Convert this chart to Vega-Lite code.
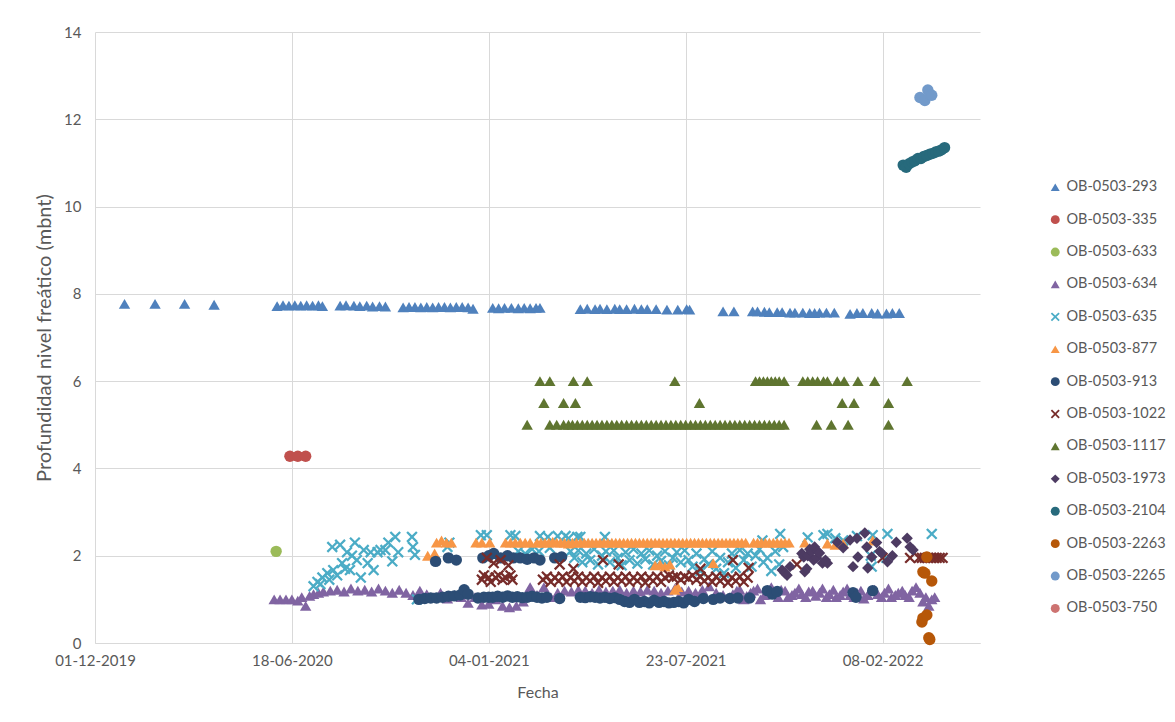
{
"$schema":"https://vega.github.io/schema/vega-lite/v6.json",
"width":885,"height":611,"autosize":"none",
"padding":{"left":95,"top":32,"right":195,"bottom":79},
"background":"white",
"config":{"view":{"stroke":null},"font":"Lato"},
"data":{"values":[
{"fecha":"2019-12-31","nivel":7.77,"pozo":"OB-0503-293"},
{"fecha":"2020-01-31","nivel":7.77,"pozo":"OB-0503-293"},
{"fecha":"2020-03-01","nivel":7.77,"pozo":"OB-0503-293"},
{"fecha":"2020-03-31","nivel":7.75,"pozo":"OB-0503-293"},
{"fecha":"2020-06-03","nivel":7.72,"pozo":"OB-0503-293"},
{"fecha":"2020-06-09","nivel":7.74,"pozo":"OB-0503-293"},
{"fecha":"2020-06-15","nivel":7.73,"pozo":"OB-0503-293"},
{"fecha":"2020-06-21","nivel":7.74,"pozo":"OB-0503-293"},
{"fecha":"2020-06-27","nivel":7.73,"pozo":"OB-0503-293"},
{"fecha":"2020-07-03","nivel":7.74,"pozo":"OB-0503-293"},
{"fecha":"2020-07-09","nivel":7.73,"pozo":"OB-0503-293"},
{"fecha":"2020-07-15","nivel":7.74,"pozo":"OB-0503-293"},
{"fecha":"2020-07-19","nivel":7.72,"pozo":"OB-0503-293"},
{"fecha":"2020-08-06","nivel":7.73,"pozo":"OB-0503-293"},
{"fecha":"2020-08-12","nivel":7.74,"pozo":"OB-0503-293"},
{"fecha":"2020-08-20","nivel":7.73,"pozo":"OB-0503-293"},
{"fecha":"2020-08-26","nivel":7.72,"pozo":"OB-0503-293"},
{"fecha":"2020-09-02","nivel":7.73,"pozo":"OB-0503-293"},
{"fecha":"2020-09-08","nivel":7.71,"pozo":"OB-0503-293"},
{"fecha":"2020-09-15","nivel":7.72,"pozo":"OB-0503-293"},
{"fecha":"2020-09-21","nivel":7.71,"pozo":"OB-0503-293"},
{"fecha":"2020-10-09","nivel":7.69,"pozo":"OB-0503-293"},
{"fecha":"2020-10-15","nivel":7.70,"pozo":"OB-0503-293"},
{"fecha":"2020-10-21","nivel":7.70,"pozo":"OB-0503-293"},
{"fecha":"2020-10-27","nivel":7.69,"pozo":"OB-0503-293"},
{"fecha":"2020-11-02","nivel":7.70,"pozo":"OB-0503-293"},
{"fecha":"2020-11-08","nivel":7.69,"pozo":"OB-0503-293"},
{"fecha":"2020-11-14","nivel":7.70,"pozo":"OB-0503-293"},
{"fecha":"2020-11-20","nivel":7.70,"pozo":"OB-0503-293"},
{"fecha":"2020-11-26","nivel":7.69,"pozo":"OB-0503-293"},
{"fecha":"2020-12-02","nivel":7.70,"pozo":"OB-0503-293"},
{"fecha":"2020-12-08","nivel":7.70,"pozo":"OB-0503-293"},
{"fecha":"2020-12-14","nivel":7.69,"pozo":"OB-0503-293"},
{"fecha":"2020-12-19","nivel":7.66,"pozo":"OB-0503-293"},
{"fecha":"2021-01-08","nivel":7.68,"pozo":"OB-0503-293"},
{"fecha":"2021-01-14","nivel":7.67,"pozo":"OB-0503-293"},
{"fecha":"2021-01-20","nivel":7.68,"pozo":"OB-0503-293"},
{"fecha":"2021-01-27","nivel":7.68,"pozo":"OB-0503-293"},
{"fecha":"2021-02-03","nivel":7.67,"pozo":"OB-0503-293"},
{"fecha":"2021-02-09","nivel":7.68,"pozo":"OB-0503-293"},
{"fecha":"2021-02-15","nivel":7.67,"pozo":"OB-0503-293"},
{"fecha":"2021-02-21","nivel":7.68,"pozo":"OB-0503-293"},
{"fecha":"2021-02-25","nivel":7.68,"pozo":"OB-0503-293"},
{"fecha":"2021-04-07","nivel":7.65,"pozo":"OB-0503-293"},
{"fecha":"2021-04-14","nivel":7.66,"pozo":"OB-0503-293"},
{"fecha":"2021-04-22","nivel":7.65,"pozo":"OB-0503-293"},
{"fecha":"2021-04-27","nivel":7.66,"pozo":"OB-0503-293"},
{"fecha":"2021-05-04","nivel":7.65,"pozo":"OB-0503-293"},
{"fecha":"2021-05-12","nivel":7.66,"pozo":"OB-0503-293"},
{"fecha":"2021-05-17","nivel":7.65,"pozo":"OB-0503-293"},
{"fecha":"2021-05-24","nivel":7.65,"pozo":"OB-0503-293"},
{"fecha":"2021-06-01","nivel":7.66,"pozo":"OB-0503-293"},
{"fecha":"2021-06-08","nivel":7.65,"pozo":"OB-0503-293"},
{"fecha":"2021-06-14","nivel":7.65,"pozo":"OB-0503-293"},
{"fecha":"2021-06-23","nivel":7.65,"pozo":"OB-0503-293"},
{"fecha":"2021-07-04","nivel":7.64,"pozo":"OB-0503-293"},
{"fecha":"2021-07-15","nivel":7.64,"pozo":"OB-0503-293"},
{"fecha":"2021-07-24","nivel":7.65,"pozo":"OB-0503-293"},
{"fecha":"2021-07-27","nivel":7.64,"pozo":"OB-0503-293"},
{"fecha":"2021-08-30","nivel":7.60,"pozo":"OB-0503-293"},
{"fecha":"2021-09-10","nivel":7.60,"pozo":"OB-0503-293"},
{"fecha":"2021-09-29","nivel":7.60,"pozo":"OB-0503-293"},
{"fecha":"2021-10-04","nivel":7.60,"pozo":"OB-0503-293"},
{"fecha":"2021-10-11","nivel":7.59,"pozo":"OB-0503-293"},
{"fecha":"2021-10-16","nivel":7.58,"pozo":"OB-0503-293"},
{"fecha":"2021-10-24","nivel":7.58,"pozo":"OB-0503-293"},
{"fecha":"2021-10-29","nivel":7.58,"pozo":"OB-0503-293"},
{"fecha":"2021-11-06","nivel":7.57,"pozo":"OB-0503-293"},
{"fecha":"2021-11-11","nivel":7.57,"pozo":"OB-0503-293"},
{"fecha":"2021-11-19","nivel":7.57,"pozo":"OB-0503-293"},
{"fecha":"2021-11-26","nivel":7.56,"pozo":"OB-0503-293"},
{"fecha":"2021-12-01","nivel":7.56,"pozo":"OB-0503-293"},
{"fecha":"2021-12-06","nivel":7.57,"pozo":"OB-0503-293"},
{"fecha":"2021-12-13","nivel":7.57,"pozo":"OB-0503-293"},
{"fecha":"2021-12-21","nivel":7.57,"pozo":"OB-0503-293"},
{"fecha":"2022-01-06","nivel":7.54,"pozo":"OB-0503-293"},
{"fecha":"2022-01-13","nivel":7.56,"pozo":"OB-0503-293"},
{"fecha":"2022-01-19","nivel":7.56,"pozo":"OB-0503-293"},
{"fecha":"2022-01-28","nivel":7.56,"pozo":"OB-0503-293"},
{"fecha":"2022-02-03","nivel":7.55,"pozo":"OB-0503-293"},
{"fecha":"2022-02-12","nivel":7.55,"pozo":"OB-0503-293"},
{"fecha":"2022-02-18","nivel":7.56,"pozo":"OB-0503-293"},
{"fecha":"2022-02-25","nivel":7.56,"pozo":"OB-0503-293"},
{"fecha":"2020-06-16","nivel":4.28,"pozo":"OB-0503-335"},
{"fecha":"2020-06-24","nivel":4.28,"pozo":"OB-0503-335"},
{"fecha":"2020-07-02","nivel":4.28,"pozo":"OB-0503-335"},
{"fecha":"2020-06-02","nivel":2.1,"pozo":"OB-0503-633"},
{"fecha":"2020-05-31","nivel":1.0,"pozo":"OB-0503-634"},
{"fecha":"2020-06-06","nivel":1.0,"pozo":"OB-0503-634"},
{"fecha":"2020-06-12","nivel":1.0,"pozo":"OB-0503-634"},
{"fecha":"2020-06-18","nivel":1.0,"pozo":"OB-0503-634"},
{"fecha":"2020-06-24","nivel":0.97,"pozo":"OB-0503-634"},
{"fecha":"2020-06-28","nivel":1.05,"pozo":"OB-0503-634"},
{"fecha":"2020-07-02","nivel":0.85,"pozo":"OB-0503-634"},
{"fecha":"2020-07-06","nivel":1.08,"pozo":"OB-0503-634"},
{"fecha":"2020-07-10","nivel":1.12,"pozo":"OB-0503-634"},
{"fecha":"2020-07-15","nivel":1.15,"pozo":"OB-0503-634"},
{"fecha":"2020-07-20","nivel":1.18,"pozo":"OB-0503-634"},
{"fecha":"2020-07-27","nivel":1.2,"pozo":"OB-0503-634"},
{"fecha":"2020-08-03","nivel":1.22,"pozo":"OB-0503-634"},
{"fecha":"2020-08-10","nivel":1.18,"pozo":"OB-0503-634"},
{"fecha":"2020-08-17","nivel":1.25,"pozo":"OB-0503-634"},
{"fecha":"2020-08-24","nivel":1.2,"pozo":"OB-0503-634"},
{"fecha":"2020-08-31","nivel":1.22,"pozo":"OB-0503-634"},
{"fecha":"2020-09-07","nivel":1.18,"pozo":"OB-0503-634"},
{"fecha":"2020-09-14","nivel":1.25,"pozo":"OB-0503-634"},
{"fecha":"2020-09-21","nivel":1.2,"pozo":"OB-0503-634"},
{"fecha":"2020-09-28","nivel":1.15,"pozo":"OB-0503-634"},
{"fecha":"2020-10-05","nivel":1.22,"pozo":"OB-0503-634"},
{"fecha":"2020-10-12","nivel":1.15,"pozo":"OB-0503-634"},
{"fecha":"2020-10-19","nivel":1.1,"pozo":"OB-0503-634"},
{"fecha":"2020-10-26","nivel":1.2,"pozo":"OB-0503-634"},
{"fecha":"2020-11-02","nivel":1.12,"pozo":"OB-0503-634"},
{"fecha":"2020-11-09","nivel":1.05,"pozo":"OB-0503-634"},
{"fecha":"2020-11-16","nivel":1.15,"pozo":"OB-0503-634"},
{"fecha":"2020-11-23","nivel":1.02,"pozo":"OB-0503-634"},
{"fecha":"2020-11-30","nivel":1.1,"pozo":"OB-0503-634"},
{"fecha":"2020-12-07","nivel":1.05,"pozo":"OB-0503-634"},
{"fecha":"2020-12-14","nivel":0.92,"pozo":"OB-0503-634"},
{"fecha":"2020-12-21","nivel":1.05,"pozo":"OB-0503-634"},
{"fecha":"2020-12-28","nivel":0.88,"pozo":"OB-0503-634"},
{"fecha":"2021-01-04","nivel":0.9,"pozo":"OB-0503-634"},
{"fecha":"2021-01-11","nivel":1.0,"pozo":"OB-0503-634"},
{"fecha":"2021-01-18","nivel":0.85,"pozo":"OB-0503-634"},
{"fecha":"2021-01-25","nivel":0.82,"pozo":"OB-0503-634"},
{"fecha":"2021-02-01","nivel":0.85,"pozo":"OB-0503-634"},
{"fecha":"2021-02-08","nivel":0.95,"pozo":"OB-0503-634"},
{"fecha":"2021-02-15","nivel":1.28,"pozo":"OB-0503-634"},
{"fecha":"2021-02-22","nivel":1.1,"pozo":"OB-0503-634"},
{"fecha":"2021-03-01","nivel":1.28,"pozo":"OB-0503-634"},
{"fecha":"2021-03-08","nivel":1.05,"pozo":"OB-0503-634"},
{"fecha":"2021-03-15","nivel":1.15,"pozo":"OB-0503-634"},
{"fecha":"2021-03-22","nivel":1.2,"pozo":"OB-0503-634"},
{"fecha":"2021-03-29","nivel":1.18,"pozo":"OB-0503-634"},
{"fecha":"2021-04-05","nivel":1.22,"pozo":"OB-0503-634"},
{"fecha":"2021-04-12","nivel":1.2,"pozo":"OB-0503-634"},
{"fecha":"2021-04-19","nivel":1.15,"pozo":"OB-0503-634"},
{"fecha":"2021-04-26","nivel":1.22,"pozo":"OB-0503-634"},
{"fecha":"2021-05-03","nivel":1.18,"pozo":"OB-0503-634"},
{"fecha":"2021-05-10","nivel":1.2,"pozo":"OB-0503-634"},
{"fecha":"2021-05-17","nivel":1.22,"pozo":"OB-0503-634"},
{"fecha":"2021-05-24","nivel":1.15,"pozo":"OB-0503-634"},
{"fecha":"2021-05-31","nivel":1.2,"pozo":"OB-0503-634"},
{"fecha":"2021-06-07","nivel":1.18,"pozo":"OB-0503-634"},
{"fecha":"2021-06-14","nivel":1.22,"pozo":"OB-0503-634"},
{"fecha":"2021-06-21","nivel":1.2,"pozo":"OB-0503-634"},
{"fecha":"2021-06-28","nivel":1.15,"pozo":"OB-0503-634"},
{"fecha":"2021-07-05","nivel":1.2,"pozo":"OB-0503-634"},
{"fecha":"2021-07-12","nivel":1.25,"pozo":"OB-0503-634"},
{"fecha":"2021-07-19","nivel":1.18,"pozo":"OB-0503-634"},
{"fecha":"2021-07-26","nivel":1.2,"pozo":"OB-0503-634"},
{"fecha":"2021-08-02","nivel":1.15,"pozo":"OB-0503-634"},
{"fecha":"2021-08-09","nivel":1.22,"pozo":"OB-0503-634"},
{"fecha":"2021-08-16","nivel":1.3,"pozo":"OB-0503-634"},
{"fecha":"2021-08-23","nivel":1.15,"pozo":"OB-0503-634"},
{"fecha":"2021-08-30","nivel":1.1,"pozo":"OB-0503-634"},
{"fecha":"2021-09-06","nivel":1.05,"pozo":"OB-0503-634"},
{"fecha":"2021-09-09","nivel":1.12,"pozo":"OB-0503-634"},
{"fecha":"2021-09-13","nivel":1.2,"pozo":"OB-0503-634"},
{"fecha":"2021-09-16","nivel":1.22,"pozo":"OB-0503-634"},
{"fecha":"2021-09-20","nivel":1.0,"pozo":"OB-0503-634"},
{"fecha":"2021-09-23","nivel":1.08,"pozo":"OB-0503-634"},
{"fecha":"2021-09-27","nivel":1.15,"pozo":"OB-0503-634"},
{"fecha":"2021-09-30","nivel":1.2,"pozo":"OB-0503-634"},
{"fecha":"2021-10-04","nivel":1.25,"pozo":"OB-0503-634"},
{"fecha":"2021-10-07","nivel":1.0,"pozo":"OB-0503-634"},
{"fecha":"2021-10-11","nivel":1.1,"pozo":"OB-0503-634"},
{"fecha":"2021-10-14","nivel":1.18,"pozo":"OB-0503-634"},
{"fecha":"2021-10-18","nivel":1.28,"pozo":"OB-0503-634"},
{"fecha":"2021-10-21","nivel":1.12,"pozo":"OB-0503-634"},
{"fecha":"2021-10-25","nivel":1.05,"pozo":"OB-0503-634"},
{"fecha":"2021-10-28","nivel":1.22,"pozo":"OB-0503-634"},
{"fecha":"2021-11-01","nivel":1.2,"pozo":"OB-0503-634"},
{"fecha":"2021-11-04","nivel":1.05,"pozo":"OB-0503-634"},
{"fecha":"2021-11-08","nivel":1.1,"pozo":"OB-0503-634"},
{"fecha":"2021-11-11","nivel":1.15,"pozo":"OB-0503-634"},
{"fecha":"2021-11-15","nivel":1.25,"pozo":"OB-0503-634"},
{"fecha":"2021-11-18","nivel":1.12,"pozo":"OB-0503-634"},
{"fecha":"2021-11-22","nivel":1.05,"pozo":"OB-0503-634"},
{"fecha":"2021-11-25","nivel":1.18,"pozo":"OB-0503-634"},
{"fecha":"2021-11-29","nivel":1.2,"pozo":"OB-0503-634"},
{"fecha":"2021-12-02","nivel":1.08,"pozo":"OB-0503-634"},
{"fecha":"2021-12-06","nivel":1.15,"pozo":"OB-0503-634"},
{"fecha":"2021-12-09","nivel":1.25,"pozo":"OB-0503-634"},
{"fecha":"2021-12-13","nivel":1.05,"pozo":"OB-0503-634"},
{"fecha":"2021-12-16","nivel":1.12,"pozo":"OB-0503-634"},
{"fecha":"2021-12-20","nivel":1.22,"pozo":"OB-0503-634"},
{"fecha":"2021-12-23","nivel":1.05,"pozo":"OB-0503-634"},
{"fecha":"2021-12-27","nivel":1.1,"pozo":"OB-0503-634"},
{"fecha":"2021-12-30","nivel":1.18,"pozo":"OB-0503-634"},
{"fecha":"2022-01-03","nivel":1.25,"pozo":"OB-0503-634"},
{"fecha":"2022-01-06","nivel":1.1,"pozo":"OB-0503-634"},
{"fecha":"2022-01-10","nivel":1.05,"pozo":"OB-0503-634"},
{"fecha":"2022-01-13","nivel":1.15,"pozo":"OB-0503-634"},
{"fecha":"2022-01-17","nivel":1.2,"pozo":"OB-0503-634"},
{"fecha":"2022-01-20","nivel":1.02,"pozo":"OB-0503-634"},
{"fecha":"2022-01-24","nivel":1.1,"pozo":"OB-0503-634"},
{"fecha":"2022-01-27","nivel":1.2,"pozo":"OB-0503-634"},
{"fecha":"2022-01-31","nivel":1.22,"pozo":"OB-0503-634"},
{"fecha":"2022-02-03","nivel":1.12,"pozo":"OB-0503-634"},
{"fecha":"2022-02-07","nivel":1.05,"pozo":"OB-0503-634"},
{"fecha":"2022-02-10","nivel":1.15,"pozo":"OB-0503-634"},
{"fecha":"2022-02-14","nivel":1.25,"pozo":"OB-0503-634"},
{"fecha":"2022-02-17","nivel":1.05,"pozo":"OB-0503-634"},
{"fecha":"2022-02-21","nivel":1.1,"pozo":"OB-0503-634"},
{"fecha":"2022-02-24","nivel":1.15,"pozo":"OB-0503-634"},
{"fecha":"2022-02-28","nivel":1.2,"pozo":"OB-0503-634"},
{"fecha":"2022-03-03","nivel":1.1,"pozo":"OB-0503-634"},
{"fecha":"2022-03-07","nivel":1.05,"pozo":"OB-0503-634"},
{"fecha":"2022-03-10","nivel":1.2,"pozo":"OB-0503-634"},
{"fecha":"2022-03-14","nivel":1.28,"pozo":"OB-0503-634"},
{"fecha":"2022-03-18","nivel":1.15,"pozo":"OB-0503-634"},
{"fecha":"2022-03-21","nivel":0.95,"pozo":"OB-0503-634"},
{"fecha":"2022-03-24","nivel":1.05,"pozo":"OB-0503-634"},
{"fecha":"2022-03-27","nivel":0.85,"pozo":"OB-0503-634"},
{"fecha":"2022-03-30","nivel":1.0,"pozo":"OB-0503-634"},
{"fecha":"2022-04-02","nivel":1.05,"pozo":"OB-0503-634"},
{"fecha":"2020-07-10","nivel":1.3,"pozo":"OB-0503-635"},
{"fecha":"2020-07-14","nivel":1.4,"pozo":"OB-0503-635"},
{"fecha":"2020-07-17","nivel":1.35,"pozo":"OB-0503-635"},
{"fecha":"2020-07-19","nivel":1.5,"pozo":"OB-0503-635"},
{"fecha":"2020-07-24","nivel":1.6,"pozo":"OB-0503-635"},
{"fecha":"2020-07-26","nivel":1.45,"pozo":"OB-0503-635"},
{"fecha":"2020-07-29","nivel":2.2,"pozo":"OB-0503-635"},
{"fecha":"2020-07-30","nivel":1.67,"pozo":"OB-0503-635"},
{"fecha":"2020-08-03","nivel":1.55,"pozo":"OB-0503-635"},
{"fecha":"2020-08-06","nivel":2.25,"pozo":"OB-0503-635"},
{"fecha":"2020-08-08","nivel":1.83,"pozo":"OB-0503-635"},
{"fecha":"2020-08-11","nivel":1.7,"pozo":"OB-0503-635"},
{"fecha":"2020-08-13","nivel":2.08,"pozo":"OB-0503-635"},
{"fecha":"2020-08-16","nivel":1.67,"pozo":"OB-0503-635"},
{"fecha":"2020-08-18","nivel":2.0,"pozo":"OB-0503-635"},
{"fecha":"2020-08-21","nivel":2.3,"pozo":"OB-0503-635"},
{"fecha":"2020-08-23","nivel":1.9,"pozo":"OB-0503-635"},
{"fecha":"2020-08-27","nivel":1.5,"pozo":"OB-0503-635"},
{"fecha":"2020-08-30","nivel":2.13,"pozo":"OB-0503-635"},
{"fecha":"2020-09-03","nivel":1.83,"pozo":"OB-0503-635"},
{"fecha":"2020-09-06","nivel":2.08,"pozo":"OB-0503-635"},
{"fecha":"2020-09-09","nivel":1.67,"pozo":"OB-0503-635"},
{"fecha":"2020-09-13","nivel":2.08,"pozo":"OB-0503-635"},
{"fecha":"2020-09-16","nivel":2.13,"pozo":"OB-0503-635"},
{"fecha":"2020-09-21","nivel":2.13,"pozo":"OB-0503-635"},
{"fecha":"2020-09-24","nivel":2.3,"pozo":"OB-0503-635"},
{"fecha":"2020-09-28","nivel":1.87,"pozo":"OB-0503-635"},
{"fecha":"2020-10-01","nivel":2.43,"pozo":"OB-0503-635"},
{"fecha":"2020-10-04","nivel":2.08,"pozo":"OB-0503-635"},
{"fecha":"2020-10-18","nivel":2.43,"pozo":"OB-0503-635"},
{"fecha":"2020-10-19","nivel":2.2,"pozo":"OB-0503-635"},
{"fecha":"2020-10-21","nivel":2.02,"pozo":"OB-0503-635"},
{"fecha":"2020-10-23","nivel":1.0,"pozo":"OB-0503-635"},
{"fecha":"2020-11-23","nivel":2.2,"pozo":"OB-0503-635"},
{"fecha":"2020-11-25","nivel":2.3,"pozo":"OB-0503-635"},
{"fecha":"2020-12-27","nivel":2.47,"pozo":"OB-0503-635"},
{"fecha":"2021-01-02","nivel":2.47,"pozo":"OB-0503-635"},
{"fecha":"2021-01-26","nivel":2.47,"pozo":"OB-0503-635"},
{"fecha":"2021-01-31","nivel":2.45,"pozo":"OB-0503-635"},
{"fecha":"2021-02-03","nivel":2.1,"pozo":"OB-0503-635"},
{"fecha":"2021-02-10","nivel":2.05,"pozo":"OB-0503-635"},
{"fecha":"2021-02-17","nivel":2.15,"pozo":"OB-0503-635"},
{"fecha":"2021-02-24","nivel":2.1,"pozo":"OB-0503-635"},
{"fecha":"2021-02-25","nivel":2.45,"pozo":"OB-0503-635"},
{"fecha":"2021-03-05","nivel":2.43,"pozo":"OB-0503-635"},
{"fecha":"2021-03-07","nivel":2.18,"pozo":"OB-0503-635"},
{"fecha":"2021-03-15","nivel":2.45,"pozo":"OB-0503-635"},
{"fecha":"2021-03-23","nivel":2.45,"pozo":"OB-0503-635"},
{"fecha":"2021-03-26","nivel":2.4,"pozo":"OB-0503-635"},
{"fecha":"2021-04-04","nivel":2.43,"pozo":"OB-0503-635"},
{"fecha":"2021-04-07","nivel":2.43,"pozo":"OB-0503-635"},
{"fecha":"2021-05-02","nivel":2.43,"pozo":"OB-0503-635"},
{"fecha":"2021-03-28","nivel":2.1,"pozo":"OB-0503-635"},
{"fecha":"2021-04-01","nivel":1.95,"pozo":"OB-0503-635"},
{"fecha":"2021-04-05","nivel":2.12,"pozo":"OB-0503-635"},
{"fecha":"2021-04-09","nivel":1.85,"pozo":"OB-0503-635"},
{"fecha":"2021-04-13","nivel":2.05,"pozo":"OB-0503-635"},
{"fecha":"2021-04-17","nivel":1.9,"pozo":"OB-0503-635"},
{"fecha":"2021-04-21","nivel":2.15,"pozo":"OB-0503-635"},
{"fecha":"2021-04-25","nivel":1.8,"pozo":"OB-0503-635"},
{"fecha":"2021-04-29","nivel":2.0,"pozo":"OB-0503-635"},
{"fecha":"2021-05-03","nivel":2.1,"pozo":"OB-0503-635"},
{"fecha":"2021-05-07","nivel":1.85,"pozo":"OB-0503-635"},
{"fecha":"2021-05-11","nivel":2.12,"pozo":"OB-0503-635"},
{"fecha":"2021-05-15","nivel":1.95,"pozo":"OB-0503-635"},
{"fecha":"2021-05-19","nivel":1.78,"pozo":"OB-0503-635"},
{"fecha":"2021-05-23","nivel":2.08,"pozo":"OB-0503-635"},
{"fecha":"2021-05-27","nivel":1.9,"pozo":"OB-0503-635"},
{"fecha":"2021-05-31","nivel":2.15,"pozo":"OB-0503-635"},
{"fecha":"2021-06-04","nivel":1.82,"pozo":"OB-0503-635"},
{"fecha":"2021-06-08","nivel":2.05,"pozo":"OB-0503-635"},
{"fecha":"2021-06-12","nivel":1.92,"pozo":"OB-0503-635"},
{"fecha":"2021-06-16","nivel":2.12,"pozo":"OB-0503-635"},
{"fecha":"2021-06-20","nivel":1.8,"pozo":"OB-0503-635"},
{"fecha":"2021-06-24","nivel":2.0,"pozo":"OB-0503-635"},
{"fecha":"2021-06-28","nivel":1.88,"pozo":"OB-0503-635"},
{"fecha":"2021-07-02","nivel":2.1,"pozo":"OB-0503-635"},
{"fecha":"2021-07-06","nivel":1.78,"pozo":"OB-0503-635"},
{"fecha":"2021-07-10","nivel":1.95,"pozo":"OB-0503-635"},
{"fecha":"2021-07-14","nivel":2.08,"pozo":"OB-0503-635"},
{"fecha":"2021-07-18","nivel":1.85,"pozo":"OB-0503-635"},
{"fecha":"2021-07-22","nivel":2.12,"pozo":"OB-0503-635"},
{"fecha":"2021-07-26","nivel":1.9,"pozo":"OB-0503-635"},
{"fecha":"2021-07-30","nivel":1.75,"pozo":"OB-0503-635"},
{"fecha":"2021-08-03","nivel":2.05,"pozo":"OB-0503-635"},
{"fecha":"2021-08-07","nivel":1.65,"pozo":"OB-0503-635"},
{"fecha":"2021-08-11","nivel":1.92,"pozo":"OB-0503-635"},
{"fecha":"2021-08-15","nivel":1.8,"pozo":"OB-0503-635"},
{"fecha":"2021-08-19","nivel":2.1,"pozo":"OB-0503-635"},
{"fecha":"2021-08-23","nivel":1.7,"pozo":"OB-0503-635"},
{"fecha":"2021-08-27","nivel":1.95,"pozo":"OB-0503-635"},
{"fecha":"2021-08-31","nivel":1.6,"pozo":"OB-0503-635"},
{"fecha":"2021-09-04","nivel":1.85,"pozo":"OB-0503-635"},
{"fecha":"2021-09-08","nivel":2.05,"pozo":"OB-0503-635"},
{"fecha":"2021-09-12","nivel":1.72,"pozo":"OB-0503-635"},
{"fecha":"2021-09-16","nivel":2.13,"pozo":"OB-0503-635"},
{"fecha":"2021-09-20","nivel":1.9,"pozo":"OB-0503-635"},
{"fecha":"2021-09-24","nivel":2.05,"pozo":"OB-0503-635"},
{"fecha":"2021-09-28","nivel":1.75,"pozo":"OB-0503-635"},
{"fecha":"2021-10-02","nivel":2.0,"pozo":"OB-0503-635"},
{"fecha":"2021-10-06","nivel":2.15,"pozo":"OB-0503-635"},
{"fecha":"2021-10-09","nivel":2.35,"pozo":"OB-0503-635"},
{"fecha":"2021-10-10","nivel":1.85,"pozo":"OB-0503-635"},
{"fecha":"2021-10-14","nivel":1.95,"pozo":"OB-0503-635"},
{"fecha":"2021-10-18","nivel":1.65,"pozo":"OB-0503-635"},
{"fecha":"2021-10-22","nivel":2.1,"pozo":"OB-0503-635"},
{"fecha":"2021-10-26","nivel":1.8,"pozo":"OB-0503-635"},
{"fecha":"2021-10-27","nivel":2.5,"pozo":"OB-0503-635"},
{"fecha":"2021-10-30","nivel":2.2,"pozo":"OB-0503-635"},
{"fecha":"2021-11-24","nivel":2.42,"pozo":"OB-0503-635"},
{"fecha":"2021-12-10","nivel":2.47,"pozo":"OB-0503-635"},
{"fecha":"2021-12-14","nivel":2.5,"pozo":"OB-0503-635"},
{"fecha":"2021-12-22","nivel":2.4,"pozo":"OB-0503-635"},
{"fecha":"2021-12-30","nivel":2.35,"pozo":"OB-0503-635"},
{"fecha":"2022-01-13","nivel":2.45,"pozo":"OB-0503-635"},
{"fecha":"2022-01-27","nivel":2.0,"pozo":"OB-0503-635"},
{"fecha":"2022-01-28","nivel":1.75,"pozo":"OB-0503-635"},
{"fecha":"2022-01-29","nivel":2.47,"pozo":"OB-0503-635"},
{"fecha":"2022-02-12","nivel":1.95,"pozo":"OB-0503-635"},
{"fecha":"2022-02-13","nivel":2.5,"pozo":"OB-0503-635"},
{"fecha":"2022-03-30","nivel":2.5,"pozo":"OB-0503-635"},
{"fecha":"2020-11-03","nivel":2.0,"pozo":"OB-0503-877"},
{"fecha":"2020-11-10","nivel":2.05,"pozo":"OB-0503-877"},
{"fecha":"2020-11-12","nivel":2.3,"pozo":"OB-0503-877"},
{"fecha":"2020-11-17","nivel":2.35,"pozo":"OB-0503-877"},
{"fecha":"2020-11-22","nivel":2.3,"pozo":"OB-0503-877"},
{"fecha":"2020-11-27","nivel":2.3,"pozo":"OB-0503-877"},
{"fecha":"2020-12-22","nivel":2.3,"pozo":"OB-0503-877"},
{"fecha":"2020-12-28","nivel":2.3,"pozo":"OB-0503-877"},
{"fecha":"2021-01-05","nivel":2.3,"pozo":"OB-0503-877"},
{"fecha":"2021-01-21","nivel":2.3,"pozo":"OB-0503-877"},
{"fecha":"2021-01-26","nivel":2.3,"pozo":"OB-0503-877"},
{"fecha":"2021-01-31","nivel":2.3,"pozo":"OB-0503-877"},
{"fecha":"2021-02-05","nivel":2.3,"pozo":"OB-0503-877"},
{"fecha":"2021-02-10","nivel":2.3,"pozo":"OB-0503-877"},
{"fecha":"2021-02-15","nivel":2.3,"pozo":"OB-0503-877"},
{"fecha":"2021-02-22","nivel":2.3,"pozo":"OB-0503-877"},
{"fecha":"2021-02-26","nivel":2.3,"pozo":"OB-0503-877"},
{"fecha":"2021-03-02","nivel":2.3,"pozo":"OB-0503-877"},
{"fecha":"2021-03-06","nivel":2.3,"pozo":"OB-0503-877"},
{"fecha":"2021-03-10","nivel":2.32,"pozo":"OB-0503-877"},
{"fecha":"2021-03-14","nivel":2.3,"pozo":"OB-0503-877"},
{"fecha":"2021-03-18","nivel":2.3,"pozo":"OB-0503-877"},
{"fecha":"2021-03-22","nivel":2.3,"pozo":"OB-0503-877"},
{"fecha":"2021-03-26","nivel":2.28,"pozo":"OB-0503-877"},
{"fecha":"2021-03-30","nivel":2.3,"pozo":"OB-0503-877"},
{"fecha":"2021-04-03","nivel":2.3,"pozo":"OB-0503-877"},
{"fecha":"2021-04-07","nivel":2.3,"pozo":"OB-0503-877"},
{"fecha":"2021-04-11","nivel":2.3,"pozo":"OB-0503-877"},
{"fecha":"2021-04-15","nivel":2.3,"pozo":"OB-0503-877"},
{"fecha":"2021-04-19","nivel":2.3,"pozo":"OB-0503-877"},
{"fecha":"2021-04-23","nivel":2.3,"pozo":"OB-0503-877"},
{"fecha":"2021-04-27","nivel":2.3,"pozo":"OB-0503-877"},
{"fecha":"2021-05-01","nivel":2.3,"pozo":"OB-0503-877"},
{"fecha":"2021-05-05","nivel":2.3,"pozo":"OB-0503-877"},
{"fecha":"2021-05-09","nivel":2.3,"pozo":"OB-0503-877"},
{"fecha":"2021-05-13","nivel":2.3,"pozo":"OB-0503-877"},
{"fecha":"2021-05-17","nivel":2.3,"pozo":"OB-0503-877"},
{"fecha":"2021-05-21","nivel":2.3,"pozo":"OB-0503-877"},
{"fecha":"2021-05-25","nivel":2.3,"pozo":"OB-0503-877"},
{"fecha":"2021-05-29","nivel":2.3,"pozo":"OB-0503-877"},
{"fecha":"2021-06-02","nivel":2.3,"pozo":"OB-0503-877"},
{"fecha":"2021-06-06","nivel":2.3,"pozo":"OB-0503-877"},
{"fecha":"2021-06-10","nivel":2.3,"pozo":"OB-0503-877"},
{"fecha":"2021-06-14","nivel":2.3,"pozo":"OB-0503-877"},
{"fecha":"2021-06-18","nivel":2.3,"pozo":"OB-0503-877"},
{"fecha":"2021-06-22","nivel":2.3,"pozo":"OB-0503-877"},
{"fecha":"2021-06-26","nivel":2.3,"pozo":"OB-0503-877"},
{"fecha":"2021-06-30","nivel":2.3,"pozo":"OB-0503-877"},
{"fecha":"2021-07-04","nivel":2.3,"pozo":"OB-0503-877"},
{"fecha":"2021-07-08","nivel":2.3,"pozo":"OB-0503-877"},
{"fecha":"2021-07-12","nivel":2.3,"pozo":"OB-0503-877"},
{"fecha":"2021-07-16","nivel":2.3,"pozo":"OB-0503-877"},
{"fecha":"2021-07-20","nivel":2.3,"pozo":"OB-0503-877"},
{"fecha":"2021-07-24","nivel":2.3,"pozo":"OB-0503-877"},
{"fecha":"2021-07-28","nivel":2.3,"pozo":"OB-0503-877"},
{"fecha":"2021-08-01","nivel":2.3,"pozo":"OB-0503-877"},
{"fecha":"2021-08-05","nivel":2.3,"pozo":"OB-0503-877"},
{"fecha":"2021-08-09","nivel":2.3,"pozo":"OB-0503-877"},
{"fecha":"2021-08-13","nivel":2.3,"pozo":"OB-0503-877"},
{"fecha":"2021-08-17","nivel":2.3,"pozo":"OB-0503-877"},
{"fecha":"2021-08-21","nivel":2.3,"pozo":"OB-0503-877"},
{"fecha":"2021-08-25","nivel":2.3,"pozo":"OB-0503-877"},
{"fecha":"2021-08-29","nivel":2.3,"pozo":"OB-0503-877"},
{"fecha":"2021-09-02","nivel":2.3,"pozo":"OB-0503-877"},
{"fecha":"2021-09-06","nivel":2.3,"pozo":"OB-0503-877"},
{"fecha":"2021-09-10","nivel":2.3,"pozo":"OB-0503-877"},
{"fecha":"2021-09-14","nivel":2.3,"pozo":"OB-0503-877"},
{"fecha":"2021-09-18","nivel":2.3,"pozo":"OB-0503-877"},
{"fecha":"2021-09-22","nivel":2.3,"pozo":"OB-0503-877"},
{"fecha":"2021-09-30","nivel":2.3,"pozo":"OB-0503-877"},
{"fecha":"2021-10-04","nivel":2.3,"pozo":"OB-0503-877"},
{"fecha":"2021-10-08","nivel":2.3,"pozo":"OB-0503-877"},
{"fecha":"2021-10-12","nivel":2.3,"pozo":"OB-0503-877"},
{"fecha":"2021-10-16","nivel":2.3,"pozo":"OB-0503-877"},
{"fecha":"2021-10-20","nivel":2.3,"pozo":"OB-0503-877"},
{"fecha":"2021-10-24","nivel":2.3,"pozo":"OB-0503-877"},
{"fecha":"2021-10-28","nivel":2.3,"pozo":"OB-0503-877"},
{"fecha":"2021-11-01","nivel":2.3,"pozo":"OB-0503-877"},
{"fecha":"2021-11-05","nivel":2.3,"pozo":"OB-0503-877"},
{"fecha":"2021-06-22","nivel":1.78,"pozo":"OB-0503-877"},
{"fecha":"2021-06-27","nivel":1.8,"pozo":"OB-0503-877"},
{"fecha":"2021-07-02","nivel":1.75,"pozo":"OB-0503-877"},
{"fecha":"2021-07-07","nivel":1.8,"pozo":"OB-0503-877"},
{"fecha":"2021-07-12","nivel":1.22,"pozo":"OB-0503-877"},
{"fecha":"2021-07-15","nivel":1.28,"pozo":"OB-0503-877"},
{"fecha":"2021-08-20","nivel":1.83,"pozo":"OB-0503-877"},
{"fecha":"2021-11-21","nivel":2.3,"pozo":"OB-0503-877"},
{"fecha":"2021-12-14","nivel":2.28,"pozo":"OB-0503-877"},
{"fecha":"2021-12-22","nivel":2.25,"pozo":"OB-0503-877"},
{"fecha":"2021-12-30","nivel":2.28,"pozo":"OB-0503-877"},
{"fecha":"2022-01-29","nivel":2.35,"pozo":"OB-0503-877"},
{"fecha":"2020-11-11","nivel":1.87,"pozo":"OB-0503-913"},
{"fecha":"2020-11-24","nivel":1.95,"pozo":"OB-0503-913"},
{"fecha":"2020-12-02","nivel":1.9,"pozo":"OB-0503-913"},
{"fecha":"2020-10-25","nivel":1.0,"pozo":"OB-0503-913"},
{"fecha":"2020-10-31","nivel":1.02,"pozo":"OB-0503-913"},
{"fecha":"2020-11-06","nivel":1.03,"pozo":"OB-0503-913"},
{"fecha":"2020-11-12","nivel":1.03,"pozo":"OB-0503-913"},
{"fecha":"2020-11-18","nivel":1.05,"pozo":"OB-0503-913"},
{"fecha":"2020-11-24","nivel":1.07,"pozo":"OB-0503-913"},
{"fecha":"2020-11-30","nivel":1.08,"pozo":"OB-0503-913"},
{"fecha":"2020-12-06","nivel":1.1,"pozo":"OB-0503-913"},
{"fecha":"2020-12-10","nivel":1.22,"pozo":"OB-0503-913"},
{"fecha":"2020-12-14","nivel":1.12,"pozo":"OB-0503-913"},
{"fecha":"2020-12-24","nivel":1.03,"pozo":"OB-0503-913"},
{"fecha":"2020-12-30","nivel":1.05,"pozo":"OB-0503-913"},
{"fecha":"2021-01-04","nivel":1.05,"pozo":"OB-0503-913"},
{"fecha":"2020-12-29","nivel":1.95,"pozo":"OB-0503-913"},
{"fecha":"2021-01-04","nivel":2.0,"pozo":"OB-0503-913"},
{"fecha":"2021-01-09","nivel":2.05,"pozo":"OB-0503-913"},
{"fecha":"2021-01-16","nivel":1.95,"pozo":"OB-0503-913"},
{"fecha":"2021-01-23","nivel":2.0,"pozo":"OB-0503-913"},
{"fecha":"2021-01-29","nivel":1.95,"pozo":"OB-0503-913"},
{"fecha":"2021-02-05","nivel":1.95,"pozo":"OB-0503-913"},
{"fecha":"2021-02-12","nivel":1.92,"pozo":"OB-0503-913"},
{"fecha":"2021-02-19","nivel":1.95,"pozo":"OB-0503-913"},
{"fecha":"2021-02-25","nivel":1.9,"pozo":"OB-0503-913"},
{"fecha":"2021-03-12","nivel":1.95,"pozo":"OB-0503-913"},
{"fecha":"2021-03-19","nivel":1.97,"pozo":"OB-0503-913"},
{"fecha":"2021-01-08","nivel":1.05,"pozo":"OB-0503-913"},
{"fecha":"2021-01-13","nivel":1.07,"pozo":"OB-0503-913"},
{"fecha":"2021-01-18","nivel":1.05,"pozo":"OB-0503-913"},
{"fecha":"2021-01-23","nivel":1.08,"pozo":"OB-0503-913"},
{"fecha":"2021-01-28","nivel":1.05,"pozo":"OB-0503-913"},
{"fecha":"2021-02-02","nivel":1.06,"pozo":"OB-0503-913"},
{"fecha":"2021-02-07","nivel":1.04,"pozo":"OB-0503-913"},
{"fecha":"2021-02-12","nivel":1.05,"pozo":"OB-0503-913"},
{"fecha":"2021-02-17","nivel":1.07,"pozo":"OB-0503-913"},
{"fecha":"2021-02-22","nivel":1.05,"pozo":"OB-0503-913"},
{"fecha":"2021-02-27","nivel":1.03,"pozo":"OB-0503-913"},
{"fecha":"2021-03-04","nivel":1.05,"pozo":"OB-0503-913"},
{"fecha":"2021-03-17","nivel":1.02,"pozo":"OB-0503-913"},
{"fecha":"2021-04-07","nivel":1.05,"pozo":"OB-0503-913"},
{"fecha":"2021-04-12","nivel":1.04,"pozo":"OB-0503-913"},
{"fecha":"2021-04-17","nivel":1.06,"pozo":"OB-0503-913"},
{"fecha":"2021-04-22","nivel":1.05,"pozo":"OB-0503-913"},
{"fecha":"2021-04-27","nivel":1.03,"pozo":"OB-0503-913"},
{"fecha":"2021-05-02","nivel":1.05,"pozo":"OB-0503-913"},
{"fecha":"2021-05-07","nivel":1.02,"pozo":"OB-0503-913"},
{"fecha":"2021-05-12","nivel":1.04,"pozo":"OB-0503-913"},
{"fecha":"2021-05-17","nivel":1.0,"pozo":"OB-0503-913"},
{"fecha":"2021-05-22","nivel":0.95,"pozo":"OB-0503-913"},
{"fecha":"2021-05-27","nivel":0.93,"pozo":"OB-0503-913"},
{"fecha":"2021-06-01","nivel":1.0,"pozo":"OB-0503-913"},
{"fecha":"2021-06-06","nivel":0.93,"pozo":"OB-0503-913"},
{"fecha":"2021-06-11","nivel":0.95,"pozo":"OB-0503-913"},
{"fecha":"2021-06-16","nivel":0.92,"pozo":"OB-0503-913"},
{"fecha":"2021-06-21","nivel":0.98,"pozo":"OB-0503-913"},
{"fecha":"2021-06-26","nivel":0.93,"pozo":"OB-0503-913"},
{"fecha":"2021-07-01","nivel":0.95,"pozo":"OB-0503-913"},
{"fecha":"2021-07-06","nivel":0.92,"pozo":"OB-0503-913"},
{"fecha":"2021-07-11","nivel":0.93,"pozo":"OB-0503-913"},
{"fecha":"2021-07-16","nivel":0.95,"pozo":"OB-0503-913"},
{"fecha":"2021-07-21","nivel":0.92,"pozo":"OB-0503-913"},
{"fecha":"2021-07-26","nivel":1.0,"pozo":"OB-0503-913"},
{"fecha":"2021-08-01","nivel":0.95,"pozo":"OB-0503-913"},
{"fecha":"2021-08-10","nivel":1.02,"pozo":"OB-0503-913"},
{"fecha":"2021-08-20","nivel":1.0,"pozo":"OB-0503-913"},
{"fecha":"2021-08-27","nivel":1.03,"pozo":"OB-0503-913"},
{"fecha":"2021-09-06","nivel":1.02,"pozo":"OB-0503-913"},
{"fecha":"2021-09-14","nivel":1.03,"pozo":"OB-0503-913"},
{"fecha":"2021-09-26","nivel":1.03,"pozo":"OB-0503-913"},
{"fecha":"2021-10-14","nivel":1.2,"pozo":"OB-0503-913"},
{"fecha":"2021-10-19","nivel":1.12,"pozo":"OB-0503-913"},
{"fecha":"2021-10-24","nivel":1.18,"pozo":"OB-0503-913"},
{"fecha":"2022-01-09","nivel":1.15,"pozo":"OB-0503-913"},
{"fecha":"2022-01-12","nivel":1.05,"pozo":"OB-0503-913"},
{"fecha":"2022-01-29","nivel":1.2,"pozo":"OB-0503-913"},
{"fecha":"2020-12-28","nivel":1.45,"pozo":"OB-0503-1022"},
{"fecha":"2020-12-30","nivel":1.55,"pozo":"OB-0503-1022"},
{"fecha":"2021-01-02","nivel":1.95,"pozo":"OB-0503-1022"},
{"fecha":"2021-01-04","nivel":1.5,"pozo":"OB-0503-1022"},
{"fecha":"2021-01-06","nivel":1.4,"pozo":"OB-0503-1022"},
{"fecha":"2021-01-09","nivel":1.83,"pozo":"OB-0503-1022"},
{"fecha":"2021-01-11","nivel":1.5,"pozo":"OB-0503-1022"},
{"fecha":"2021-01-14","nivel":1.55,"pozo":"OB-0503-1022"},
{"fecha":"2021-01-16","nivel":1.9,"pozo":"OB-0503-1022"},
{"fecha":"2021-01-18","nivel":1.45,"pozo":"OB-0503-1022"},
{"fecha":"2021-01-21","nivel":1.5,"pozo":"OB-0503-1022"},
{"fecha":"2021-01-24","nivel":1.78,"pozo":"OB-0503-1022"},
{"fecha":"2021-01-26","nivel":1.55,"pozo":"OB-0503-1022"},
{"fecha":"2021-01-28","nivel":1.45,"pozo":"OB-0503-1022"},
{"fecha":"2021-02-28","nivel":1.45,"pozo":"OB-0503-1022"},
{"fecha":"2021-03-04","nivel":1.52,"pozo":"OB-0503-1022"},
{"fecha":"2021-03-08","nivel":1.4,"pozo":"OB-0503-1022"},
{"fecha":"2021-03-12","nivel":1.5,"pozo":"OB-0503-1022"},
{"fecha":"2021-03-16","nivel":1.42,"pozo":"OB-0503-1022"},
{"fecha":"2021-03-20","nivel":1.52,"pozo":"OB-0503-1022"},
{"fecha":"2021-03-24","nivel":1.4,"pozo":"OB-0503-1022"},
{"fecha":"2021-03-28","nivel":1.5,"pozo":"OB-0503-1022"},
{"fecha":"2021-04-01","nivel":1.42,"pozo":"OB-0503-1022"},
{"fecha":"2021-04-05","nivel":1.52,"pozo":"OB-0503-1022"},
{"fecha":"2021-04-09","nivel":1.4,"pozo":"OB-0503-1022"},
{"fecha":"2021-04-13","nivel":1.5,"pozo":"OB-0503-1022"},
{"fecha":"2021-04-17","nivel":1.42,"pozo":"OB-0503-1022"},
{"fecha":"2021-04-21","nivel":1.52,"pozo":"OB-0503-1022"},
{"fecha":"2021-04-25","nivel":1.38,"pozo":"OB-0503-1022"},
{"fecha":"2021-04-29","nivel":1.5,"pozo":"OB-0503-1022"},
{"fecha":"2021-05-03","nivel":1.42,"pozo":"OB-0503-1022"},
{"fecha":"2021-05-07","nivel":1.52,"pozo":"OB-0503-1022"},
{"fecha":"2021-05-11","nivel":1.4,"pozo":"OB-0503-1022"},
{"fecha":"2021-05-15","nivel":1.5,"pozo":"OB-0503-1022"},
{"fecha":"2021-05-19","nivel":1.42,"pozo":"OB-0503-1022"},
{"fecha":"2021-05-23","nivel":1.52,"pozo":"OB-0503-1022"},
{"fecha":"2021-05-27","nivel":1.4,"pozo":"OB-0503-1022"},
{"fecha":"2021-05-31","nivel":1.5,"pozo":"OB-0503-1022"},
{"fecha":"2021-06-04","nivel":1.42,"pozo":"OB-0503-1022"},
{"fecha":"2021-06-08","nivel":1.52,"pozo":"OB-0503-1022"},
{"fecha":"2021-06-12","nivel":1.38,"pozo":"OB-0503-1022"},
{"fecha":"2021-06-16","nivel":1.5,"pozo":"OB-0503-1022"},
{"fecha":"2021-06-20","nivel":1.42,"pozo":"OB-0503-1022"},
{"fecha":"2021-06-24","nivel":1.52,"pozo":"OB-0503-1022"},
{"fecha":"2021-06-28","nivel":1.4,"pozo":"OB-0503-1022"},
{"fecha":"2021-07-02","nivel":1.5,"pozo":"OB-0503-1022"},
{"fecha":"2021-07-06","nivel":1.55,"pozo":"OB-0503-1022"},
{"fecha":"2021-07-10","nivel":1.5,"pozo":"OB-0503-1022"},
{"fecha":"2021-07-14","nivel":1.52,"pozo":"OB-0503-1022"},
{"fecha":"2021-07-18","nivel":1.45,"pozo":"OB-0503-1022"},
{"fecha":"2021-07-22","nivel":1.52,"pozo":"OB-0503-1022"},
{"fecha":"2021-07-26","nivel":1.48,"pozo":"OB-0503-1022"},
{"fecha":"2021-07-30","nivel":1.55,"pozo":"OB-0503-1022"},
{"fecha":"2021-08-03","nivel":1.45,"pozo":"OB-0503-1022"},
{"fecha":"2021-08-07","nivel":1.52,"pozo":"OB-0503-1022"},
{"fecha":"2021-08-11","nivel":1.42,"pozo":"OB-0503-1022"},
{"fecha":"2021-08-15","nivel":1.5,"pozo":"OB-0503-1022"},
{"fecha":"2021-08-19","nivel":1.4,"pozo":"OB-0503-1022"},
{"fecha":"2021-08-23","nivel":1.52,"pozo":"OB-0503-1022"},
{"fecha":"2021-08-27","nivel":1.42,"pozo":"OB-0503-1022"},
{"fecha":"2021-08-31","nivel":1.5,"pozo":"OB-0503-1022"},
{"fecha":"2021-09-04","nivel":1.38,"pozo":"OB-0503-1022"},
{"fecha":"2021-09-08","nivel":1.5,"pozo":"OB-0503-1022"},
{"fecha":"2021-09-12","nivel":1.42,"pozo":"OB-0503-1022"},
{"fecha":"2021-09-16","nivel":1.52,"pozo":"OB-0503-1022"},
{"fecha":"2021-09-20","nivel":1.4,"pozo":"OB-0503-1022"},
{"fecha":"2021-09-24","nivel":1.5,"pozo":"OB-0503-1022"},
{"fecha":"2021-03-17","nivel":1.8,"pozo":"OB-0503-1022"},
{"fecha":"2021-03-31","nivel":1.7,"pozo":"OB-0503-1022"},
{"fecha":"2021-04-30","nivel":1.9,"pozo":"OB-0503-1022"},
{"fecha":"2021-05-16","nivel":1.8,"pozo":"OB-0503-1022"},
{"fecha":"2021-08-07","nivel":1.7,"pozo":"OB-0503-1022"},
{"fecha":"2021-09-09","nivel":1.9,"pozo":"OB-0503-1022"},
{"fecha":"2021-09-25","nivel":1.72,"pozo":"OB-0503-1022"},
{"fecha":"2021-11-13","nivel":1.8,"pozo":"OB-0503-1022"},
{"fecha":"2022-02-08","nivel":1.95,"pozo":"OB-0503-1022"},
{"fecha":"2022-03-08","nivel":1.95,"pozo":"OB-0503-1022"},
{"fecha":"2022-03-17","nivel":1.95,"pozo":"OB-0503-1022"},
{"fecha":"2022-03-20","nivel":1.95,"pozo":"OB-0503-1022"},
{"fecha":"2022-03-23","nivel":1.95,"pozo":"OB-0503-1022"},
{"fecha":"2022-03-26","nivel":1.95,"pozo":"OB-0503-1022"},
{"fecha":"2022-03-29","nivel":1.95,"pozo":"OB-0503-1022"},
{"fecha":"2022-04-01","nivel":1.95,"pozo":"OB-0503-1022"},
{"fecha":"2022-04-04","nivel":1.95,"pozo":"OB-0503-1022"},
{"fecha":"2022-04-07","nivel":1.95,"pozo":"OB-0503-1022"},
{"fecha":"2022-04-10","nivel":1.95,"pozo":"OB-0503-1022"},
{"fecha":"2021-02-25","nivel":6.0,"pozo":"OB-0503-1117"},
{"fecha":"2021-03-07","nivel":6.0,"pozo":"OB-0503-1117"},
{"fecha":"2021-03-31","nivel":6.0,"pozo":"OB-0503-1117"},
{"fecha":"2021-04-14","nivel":6.0,"pozo":"OB-0503-1117"},
{"fecha":"2021-07-12","nivel":6.0,"pozo":"OB-0503-1117"},
{"fecha":"2021-10-02","nivel":6.0,"pozo":"OB-0503-1117"},
{"fecha":"2021-10-06","nivel":6.0,"pozo":"OB-0503-1117"},
{"fecha":"2021-10-10","nivel":6.0,"pozo":"OB-0503-1117"},
{"fecha":"2021-10-14","nivel":6.0,"pozo":"OB-0503-1117"},
{"fecha":"2021-10-18","nivel":6.0,"pozo":"OB-0503-1117"},
{"fecha":"2021-10-22","nivel":6.0,"pozo":"OB-0503-1117"},
{"fecha":"2021-10-26","nivel":6.0,"pozo":"OB-0503-1117"},
{"fecha":"2021-10-31","nivel":6.0,"pozo":"OB-0503-1117"},
{"fecha":"2021-11-19","nivel":6.0,"pozo":"OB-0503-1117"},
{"fecha":"2021-11-24","nivel":6.0,"pozo":"OB-0503-1117"},
{"fecha":"2021-11-29","nivel":6.0,"pozo":"OB-0503-1117"},
{"fecha":"2021-12-04","nivel":6.0,"pozo":"OB-0503-1117"},
{"fecha":"2021-12-10","nivel":6.0,"pozo":"OB-0503-1117"},
{"fecha":"2021-12-14","nivel":6.0,"pozo":"OB-0503-1117"},
{"fecha":"2021-12-24","nivel":6.0,"pozo":"OB-0503-1117"},
{"fecha":"2021-12-31","nivel":6.0,"pozo":"OB-0503-1117"},
{"fecha":"2022-01-14","nivel":6.0,"pozo":"OB-0503-1117"},
{"fecha":"2022-01-31","nivel":6.0,"pozo":"OB-0503-1117"},
{"fecha":"2022-03-05","nivel":6.0,"pozo":"OB-0503-1117"},
{"fecha":"2021-03-01","nivel":5.5,"pozo":"OB-0503-1117"},
{"fecha":"2021-03-21","nivel":5.5,"pozo":"OB-0503-1117"},
{"fecha":"2021-04-02","nivel":5.5,"pozo":"OB-0503-1117"},
{"fecha":"2021-08-06","nivel":5.5,"pozo":"OB-0503-1117"},
{"fecha":"2021-12-29","nivel":5.5,"pozo":"OB-0503-1117"},
{"fecha":"2022-01-10","nivel":5.5,"pozo":"OB-0503-1117"},
{"fecha":"2022-02-14","nivel":5.5,"pozo":"OB-0503-1117"},
{"fecha":"2021-02-12","nivel":5.0,"pozo":"OB-0503-1117"},
{"fecha":"2021-03-07","nivel":5.0,"pozo":"OB-0503-1117"},
{"fecha":"2021-03-14","nivel":5.0,"pozo":"OB-0503-1117"},
{"fecha":"2021-03-21","nivel":5.0,"pozo":"OB-0503-1117"},
{"fecha":"2021-03-26","nivel":5.0,"pozo":"OB-0503-1117"},
{"fecha":"2021-03-30","nivel":5.0,"pozo":"OB-0503-1117"},
{"fecha":"2021-04-04","nivel":5.0,"pozo":"OB-0503-1117"},
{"fecha":"2021-04-09","nivel":5.0,"pozo":"OB-0503-1117"},
{"fecha":"2021-04-14","nivel":5.0,"pozo":"OB-0503-1117"},
{"fecha":"2021-04-19","nivel":5.0,"pozo":"OB-0503-1117"},
{"fecha":"2021-04-24","nivel":5.0,"pozo":"OB-0503-1117"},
{"fecha":"2021-04-29","nivel":5.0,"pozo":"OB-0503-1117"},
{"fecha":"2021-05-04","nivel":5.0,"pozo":"OB-0503-1117"},
{"fecha":"2021-05-09","nivel":5.0,"pozo":"OB-0503-1117"},
{"fecha":"2021-05-14","nivel":5.0,"pozo":"OB-0503-1117"},
{"fecha":"2021-05-19","nivel":5.0,"pozo":"OB-0503-1117"},
{"fecha":"2021-05-24","nivel":5.0,"pozo":"OB-0503-1117"},
{"fecha":"2021-05-29","nivel":5.0,"pozo":"OB-0503-1117"},
{"fecha":"2021-06-03","nivel":5.0,"pozo":"OB-0503-1117"},
{"fecha":"2021-06-08","nivel":5.0,"pozo":"OB-0503-1117"},
{"fecha":"2021-06-13","nivel":5.0,"pozo":"OB-0503-1117"},
{"fecha":"2021-06-18","nivel":5.0,"pozo":"OB-0503-1117"},
{"fecha":"2021-06-23","nivel":5.0,"pozo":"OB-0503-1117"},
{"fecha":"2021-06-28","nivel":5.0,"pozo":"OB-0503-1117"},
{"fecha":"2021-07-03","nivel":5.0,"pozo":"OB-0503-1117"},
{"fecha":"2021-07-08","nivel":5.0,"pozo":"OB-0503-1117"},
{"fecha":"2021-07-13","nivel":5.0,"pozo":"OB-0503-1117"},
{"fecha":"2021-07-18","nivel":5.0,"pozo":"OB-0503-1117"},
{"fecha":"2021-07-23","nivel":5.0,"pozo":"OB-0503-1117"},
{"fecha":"2021-07-28","nivel":5.0,"pozo":"OB-0503-1117"},
{"fecha":"2021-08-02","nivel":5.0,"pozo":"OB-0503-1117"},
{"fecha":"2021-08-07","nivel":5.0,"pozo":"OB-0503-1117"},
{"fecha":"2021-08-12","nivel":5.0,"pozo":"OB-0503-1117"},
{"fecha":"2021-08-17","nivel":5.0,"pozo":"OB-0503-1117"},
{"fecha":"2021-08-22","nivel":5.0,"pozo":"OB-0503-1117"},
{"fecha":"2021-08-27","nivel":5.0,"pozo":"OB-0503-1117"},
{"fecha":"2021-09-01","nivel":5.0,"pozo":"OB-0503-1117"},
{"fecha":"2021-09-06","nivel":5.0,"pozo":"OB-0503-1117"},
{"fecha":"2021-09-11","nivel":5.0,"pozo":"OB-0503-1117"},
{"fecha":"2021-09-16","nivel":5.0,"pozo":"OB-0503-1117"},
{"fecha":"2021-09-21","nivel":5.0,"pozo":"OB-0503-1117"},
{"fecha":"2021-09-26","nivel":5.0,"pozo":"OB-0503-1117"},
{"fecha":"2021-10-01","nivel":5.0,"pozo":"OB-0503-1117"},
{"fecha":"2021-10-06","nivel":5.0,"pozo":"OB-0503-1117"},
{"fecha":"2021-10-11","nivel":5.0,"pozo":"OB-0503-1117"},
{"fecha":"2021-10-16","nivel":5.0,"pozo":"OB-0503-1117"},
{"fecha":"2021-10-21","nivel":5.0,"pozo":"OB-0503-1117"},
{"fecha":"2021-10-26","nivel":5.0,"pozo":"OB-0503-1117"},
{"fecha":"2021-10-31","nivel":5.0,"pozo":"OB-0503-1117"},
{"fecha":"2021-12-03","nivel":5.0,"pozo":"OB-0503-1117"},
{"fecha":"2021-12-18","nivel":5.0,"pozo":"OB-0503-1117"},
{"fecha":"2022-01-04","nivel":5.0,"pozo":"OB-0503-1117"},
{"fecha":"2022-02-14","nivel":5.0,"pozo":"OB-0503-1117"},
{"fecha":"2021-10-29","nivel":1.67,"pozo":"OB-0503-1973"},
{"fecha":"2021-11-01","nivel":1.6,"pozo":"OB-0503-1973"},
{"fecha":"2021-11-03","nivel":1.55,"pozo":"OB-0503-1973"},
{"fecha":"2021-11-06","nivel":1.75,"pozo":"OB-0503-1973"},
{"fecha":"2021-11-18","nivel":2.05,"pozo":"OB-0503-1973"},
{"fecha":"2021-11-20","nivel":1.97,"pozo":"OB-0503-1973"},
{"fecha":"2021-11-21","nivel":1.63,"pozo":"OB-0503-1973"},
{"fecha":"2021-11-23","nivel":1.7,"pozo":"OB-0503-1973"},
{"fecha":"2021-11-24","nivel":2.0,"pozo":"OB-0503-1973"},
{"fecha":"2021-11-26","nivel":2.15,"pozo":"OB-0503-1973"},
{"fecha":"2021-11-28","nivel":2.1,"pozo":"OB-0503-1973"},
{"fecha":"2021-11-30","nivel":1.9,"pozo":"OB-0503-1973"},
{"fecha":"2021-12-01","nivel":2.2,"pozo":"OB-0503-1973"},
{"fecha":"2021-12-03","nivel":1.95,"pozo":"OB-0503-1973"},
{"fecha":"2021-12-04","nivel":2.1,"pozo":"OB-0503-1973"},
{"fecha":"2021-12-06","nivel":2.06,"pozo":"OB-0503-1973"},
{"fecha":"2021-12-09","nivel":1.83,"pozo":"OB-0503-1973"},
{"fecha":"2021-12-12","nivel":1.9,"pozo":"OB-0503-1973"},
{"fecha":"2021-12-14","nivel":1.83,"pozo":"OB-0503-1973"},
{"fecha":"2021-12-24","nivel":2.31,"pozo":"OB-0503-1973"},
{"fecha":"2021-12-30","nivel":2.18,"pozo":"OB-0503-1973"},
{"fecha":"2022-01-06","nivel":2.36,"pozo":"OB-0503-1973"},
{"fecha":"2022-01-09","nivel":1.75,"pozo":"OB-0503-1973"},
{"fecha":"2022-01-13","nivel":2.4,"pozo":"OB-0503-1973"},
{"fecha":"2022-01-14","nivel":1.97,"pozo":"OB-0503-1973"},
{"fecha":"2022-01-21","nivel":2.52,"pozo":"OB-0503-1973"},
{"fecha":"2022-01-23","nivel":2.2,"pozo":"OB-0503-1973"},
{"fecha":"2022-01-24","nivel":1.72,"pozo":"OB-0503-1973"},
{"fecha":"2022-01-28","nivel":1.97,"pozo":"OB-0503-1973"},
{"fecha":"2022-02-02","nivel":2.3,"pozo":"OB-0503-1973"},
{"fecha":"2022-02-05","nivel":2.1,"pozo":"OB-0503-1973"},
{"fecha":"2022-02-07","nivel":2.06,"pozo":"OB-0503-1973"},
{"fecha":"2022-02-13","nivel":1.86,"pozo":"OB-0503-1973"},
{"fecha":"2022-02-18","nivel":2.0,"pozo":"OB-0503-1973"},
{"fecha":"2022-02-22","nivel":2.31,"pozo":"OB-0503-1973"},
{"fecha":"2022-03-05","nivel":2.4,"pozo":"OB-0503-1973"},
{"fecha":"2022-03-08","nivel":2.2,"pozo":"OB-0503-1973"},
{"fecha":"2022-03-11","nivel":2.13,"pozo":"OB-0503-1973"},
{"fecha":"2022-03-01","nivel":10.95,"pozo":"OB-0503-2104"},
{"fecha":"2022-03-04","nivel":10.9,"pozo":"OB-0503-2104"},
{"fecha":"2022-03-07","nivel":10.98,"pozo":"OB-0503-2104"},
{"fecha":"2022-03-10","nivel":11.02,"pozo":"OB-0503-2104"},
{"fecha":"2022-03-13","nivel":11.05,"pozo":"OB-0503-2104"},
{"fecha":"2022-03-16","nivel":11.1,"pozo":"OB-0503-2104"},
{"fecha":"2022-03-19","nivel":11.1,"pozo":"OB-0503-2104"},
{"fecha":"2022-03-22","nivel":11.15,"pozo":"OB-0503-2104"},
{"fecha":"2022-03-25","nivel":11.17,"pozo":"OB-0503-2104"},
{"fecha":"2022-03-28","nivel":11.2,"pozo":"OB-0503-2104"},
{"fecha":"2022-03-31","nivel":11.22,"pozo":"OB-0503-2104"},
{"fecha":"2022-04-03","nivel":11.25,"pozo":"OB-0503-2104"},
{"fecha":"2022-04-06","nivel":11.27,"pozo":"OB-0503-2104"},
{"fecha":"2022-04-09","nivel":11.3,"pozo":"OB-0503-2104"},
{"fecha":"2022-04-12","nivel":11.35,"pozo":"OB-0503-2104"},
{"fecha":"2022-03-20","nivel":0.48,"pozo":"OB-0503-2263"},
{"fecha":"2022-03-21","nivel":0.57,"pozo":"OB-0503-2263"},
{"fecha":"2022-03-21","nivel":1.63,"pozo":"OB-0503-2263"},
{"fecha":"2022-03-23","nivel":1.6,"pozo":"OB-0503-2263"},
{"fecha":"2022-03-25","nivel":0.64,"pozo":"OB-0503-2263"},
{"fecha":"2022-03-25","nivel":1.97,"pozo":"OB-0503-2263"},
{"fecha":"2022-03-27","nivel":0.12,"pozo":"OB-0503-2263"},
{"fecha":"2022-03-28","nivel":0.08,"pozo":"OB-0503-2263"},
{"fecha":"2022-03-30","nivel":1.42,"pozo":"OB-0503-2263"},
{"fecha":"2022-03-18","nivel":12.5,"pozo":"OB-0503-2265"},
{"fecha":"2022-03-23","nivel":12.43,"pozo":"OB-0503-2265"},
{"fecha":"2022-03-26","nivel":12.67,"pozo":"OB-0503-2265"},
{"fecha":"2022-03-28","nivel":12.58,"pozo":"OB-0503-2265"},
{"fecha":"2022-03-30","nivel":12.55,"pozo":"OB-0503-2265"}
]},
"mark":{"type":"point","filled":true,"opacity":1,"size":130,"strokeWidth":0},
"encoding":{
"x":{"field":"fecha","type":"temporal","title":"Fecha",
"scale":{"type":"utc","domain":[{"year":2019,"month":12,"date":1,"utc":true},{"year":2022,"month":5,"date":18,"utc":true}]},
"axis":{"values":[{"year":2019,"month":12,"date":1,"utc":true},{"year":2020,"month":6,"date":18,"utc":true},{"year":2021,"month":1,"date":4,"utc":true},{"year":2021,"month":7,"date":23,"utc":true},{"year":2022,"month":2,"date":8,"utc":true}],
"format":"%d-%m-%Y","grid":true,"gridColor":"#D9D9D9","ticks":false,"domainColor":"#D9D9D9","labelColor":"#595959","labelFontSize":15,"labelPadding":10,"labelFlush":false,"titleColor":"#595959","titleFontSize":16,"titleFontWeight":"normal","titlePadding":16}},
"y":{"field":"nivel","type":"quantitative","title":"Profundidad nivel freático (mbnt)",
"scale":{"domain":[0,14]},
"axis":{"values":[0,2,4,6,8,10,12,14],"grid":true,"gridColor":"#D9D9D9","ticks":false,"domain":false,"labelColor":"#595959","labelFontSize":15,"labelPadding":14,"titleColor":"#595959","titleFontSize":20,"titleFontWeight":"normal","titlePadding":9}},
"color":{"field":"pozo","type":"nominal",
"scale":{"domain":["OB-0503-293","OB-0503-335","OB-0503-633","OB-0503-634","OB-0503-635","OB-0503-877","OB-0503-913","OB-0503-1022","OB-0503-1117","OB-0503-1973","OB-0503-2104","OB-0503-2263","OB-0503-2265","OB-0503-750"],
"range":["#4F81BD","#C0504D","#9BBB59","#8064A2","#4BACC6","#F79646","#2C4D75","#772C2A","#5F7530","#4D3B62","#276A7C","#B65708","#729ACA","#CD7371"]},
"legend":{"title":null,"orient":"none","legendX":953,"legendY":148,"labelFontSize":14.5,"labelColor":"#595959","symbolSize":80,"rowPadding":17.4,"labelOffset":4,"symbolStrokeWidth":0}},
"shape":{"field":"pozo","type":"nominal",
"scale":{"domain":["OB-0503-293","OB-0503-335","OB-0503-633","OB-0503-634","OB-0503-635","OB-0503-877","OB-0503-913","OB-0503-1022","OB-0503-1117","OB-0503-1973","OB-0503-2104","OB-0503-2263","OB-0503-2265","OB-0503-750"],
"range":["triangle-up","circle","circle","triangle-up","M-1,-0.72L-0.72,-1L0,-0.28L0.72,-1L1,-0.72L0.28,0L1,0.72L0.72,1L0,0.28L-0.72,1L-1,0.72L-0.28,0Z","triangle-up","circle","M-1,-0.72L-0.72,-1L0,-0.28L0.72,-1L1,-0.72L0.28,0L1,0.72L0.72,1L0,0.28L-0.72,1L-1,0.72L-0.28,0Z","triangle-up","diamond","circle","circle","circle","circle"]}}
}
}
